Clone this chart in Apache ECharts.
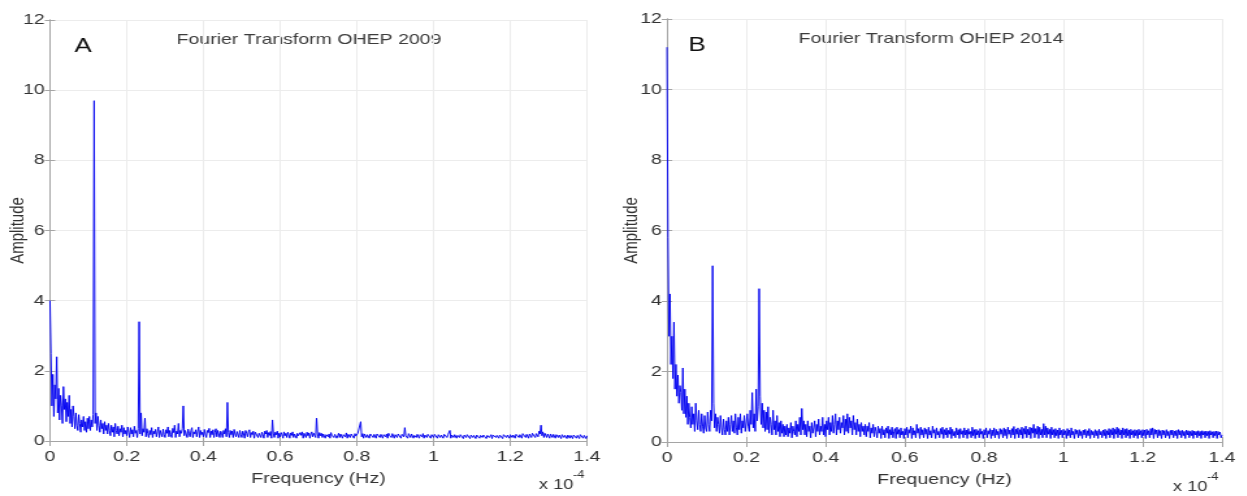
<!DOCTYPE html>
<html>
<head>
<meta charset="utf-8">
<script src="https://cdn.jsdelivr.net/npm/echarts@6/dist/echarts.min.js"></script>
<style>
html,body{margin:0;padding:0;background:#fff;overflow:hidden;width:1247px;height:496px}
#c{width:960px;height:496px;transform:scaleX(1.3);transform-origin:0 0}
</style>
</head>
<body>
<div id="c"></div>
<script>
// Frequency grid, in units of 1e-4 Hz
const frequencies = [
0,0.0025,0.005,0.0075,0.01,0.0125,0.015,0.0175,0.02,0.0225,0.025,0.0275,0.03,0.0325,0.035,0.0375,0.04,0.0425,0.045,0.0475,
0.05,0.0525,0.055,0.0575,0.06,0.0625,0.065,0.0675,0.07,0.0725,0.075,0.0775,0.08,0.0825,0.085,0.0875,0.09,0.0925,0.095,0.0975,
0.1,0.1025,0.105,0.1075,0.11,0.1125,0.115,0.1175,0.12,0.1225,0.125,0.1275,0.13,0.1325,0.135,0.1375,0.14,0.1425,0.145,0.1475,
0.15,0.1525,0.155,0.1575,0.16,0.1625,0.165,0.1675,0.17,0.1725,0.175,0.1775,0.18,0.1825,0.185,0.1875,0.19,0.1925,0.195,0.1975,
0.2,0.2025,0.205,0.2075,0.21,0.2125,0.215,0.2175,0.22,0.2225,0.225,0.2275,0.23,0.2325,0.235,0.2375,0.24,0.2425,0.245,0.2475,
0.25,0.2525,0.255,0.2575,0.26,0.2625,0.265,0.2675,0.27,0.2725,0.275,0.2775,0.28,0.2825,0.285,0.2875,0.29,0.2925,0.295,0.2975,
0.3,0.3025,0.305,0.3075,0.31,0.3125,0.315,0.3175,0.32,0.3225,0.325,0.3275,0.33,0.3325,0.335,0.3375,0.34,0.3425,0.345,0.3475,
0.35,0.3525,0.355,0.3575,0.36,0.3625,0.365,0.3675,0.37,0.3725,0.375,0.3775,0.38,0.3825,0.385,0.3875,0.39,0.3925,0.395,0.3975,
0.4,0.4025,0.405,0.4075,0.41,0.4125,0.415,0.4175,0.42,0.4225,0.425,0.4275,0.43,0.4325,0.435,0.4375,0.44,0.4425,0.445,0.4475,
0.45,0.4525,0.455,0.4575,0.46,0.4625,0.465,0.4675,0.47,0.4725,0.475,0.4775,0.48,0.4825,0.485,0.4875,0.49,0.4925,0.495,0.4975,
0.5,0.5025,0.505,0.5075,0.51,0.5125,0.515,0.5175,0.52,0.5225,0.525,0.5275,0.53,0.5325,0.535,0.5375,0.54,0.5425,0.545,0.5475,
0.55,0.5525,0.555,0.5575,0.56,0.5625,0.565,0.5675,0.57,0.5725,0.575,0.5775,0.58,0.5825,0.585,0.5875,0.59,0.5925,0.595,0.5975,
0.6,0.6025,0.605,0.6075,0.61,0.6125,0.615,0.6175,0.62,0.6225,0.625,0.6275,0.63,0.6325,0.635,0.6375,0.64,0.6425,0.645,0.6475,
0.65,0.6525,0.655,0.6575,0.66,0.6625,0.665,0.6675,0.67,0.6725,0.675,0.6775,0.68,0.6825,0.685,0.6875,0.69,0.6925,0.695,0.6975,
0.7,0.7025,0.705,0.7075,0.71,0.7125,0.715,0.7175,0.72,0.7225,0.725,0.7275,0.73,0.7325,0.735,0.7375,0.74,0.7425,0.745,0.7475,
0.75,0.7525,0.755,0.7575,0.76,0.7625,0.765,0.7675,0.77,0.7725,0.775,0.7775,0.78,0.7825,0.785,0.7875,0.79,0.7925,0.795,0.7975,
0.8,0.8025,0.805,0.8075,0.81,0.8125,0.815,0.8175,0.82,0.8225,0.825,0.8275,0.83,0.8325,0.835,0.8375,0.84,0.8425,0.845,0.8475,
0.85,0.8525,0.855,0.8575,0.86,0.8625,0.865,0.8675,0.87,0.8725,0.875,0.8775,0.88,0.8825,0.885,0.8875,0.89,0.8925,0.895,0.8975,
0.9,0.9025,0.905,0.9075,0.91,0.9125,0.915,0.9175,0.92,0.9225,0.925,0.9275,0.93,0.9325,0.935,0.9375,0.94,0.9425,0.945,0.9475,
0.95,0.9525,0.955,0.9575,0.96,0.9625,0.965,0.9675,0.97,0.9725,0.975,0.9775,0.98,0.9825,0.985,0.9875,0.99,0.9925,0.995,0.9975,
1,1.0025,1.005,1.0075,1.01,1.0125,1.015,1.0175,1.02,1.0225,1.025,1.0275,1.03,1.0325,1.035,1.0375,1.04,1.0425,1.045,1.0475,
1.05,1.0525,1.055,1.0575,1.06,1.0625,1.065,1.0675,1.07,1.0725,1.075,1.0775,1.08,1.0825,1.085,1.0875,1.09,1.0925,1.095,1.0975,
1.1,1.1025,1.105,1.1075,1.11,1.1125,1.115,1.1175,1.12,1.1225,1.125,1.1275,1.13,1.1325,1.135,1.1375,1.14,1.1425,1.145,1.1475,
1.15,1.1525,1.155,1.1575,1.16,1.1625,1.165,1.1675,1.17,1.1725,1.175,1.1775,1.18,1.1825,1.185,1.1875,1.19,1.1925,1.195,1.1975,
1.2,1.2025,1.205,1.2075,1.21,1.2125,1.215,1.2175,1.22,1.2225,1.225,1.2275,1.23,1.2325,1.235,1.2375,1.24,1.2425,1.245,1.2475,
1.25,1.2525,1.255,1.2575,1.26,1.2625,1.265,1.2675,1.27,1.2725,1.275,1.2775,1.28,1.2825,1.285,1.2875,1.29,1.2925,1.295,1.2975,
1.3,1.3025,1.305,1.3075,1.31,1.3125,1.315,1.3175,1.32,1.3225,1.325,1.3275,1.33,1.3325,1.335,1.3375,1.34,1.3425,1.345,1.3475,
1.35,1.3525,1.355,1.3575,1.36,1.3625,1.365,1.3675,1.37,1.3725,1.375,1.3775,1.38,1.3825,1.385,1.3875,1.39,1.3925,1.395,1.3975,
1.4];

const amplitude2009 = [
4.0,2.5,1.0,1.9,0.7,1.6,1.2,2.4,0.8,1.5,0.6,1.3,1.0,0.5,1.55,0.9,1.2,0.55,1.1,0.7,
1.3,0.5,0.9,0.4,1.0,0.7,0.35,0.8,0.45,0.3,0.75,0.5,0.25,0.6,0.4,0.7,0.3,0.55,0.25,0.65,
0.35,0.7,0.3,0.6,0.4,0.75,9.7,0.5,0.8,0.3,0.7,0.45,0.25,0.6,0.35,0.5,0.2,0.55,0.3,0.45,
0.2,0.5,0.3,0.15,0.45,0.25,0.4,0.12,0.5,0.3,0.2,0.42,0.15,0.35,0.25,0.45,0.12,0.38,0.2,0.3,
0.15,0.4,0.25,0.1,0.38,0.2,0.32,0.12,0.42,0.22,0.3,0.1,0.35,3.4,0.2,0.8,0.15,0.35,0.25,0.65,
0.12,0.35,0.22,0.1,0.3,0.18,0.38,0.1,0.28,0.2,0.33,0.12,0.26,0.4,0.1,0.3,0.2,0.12,0.34,0.18,
0.1,0.32,0.22,0.4,0.12,0.3,0.18,0.1,0.36,0.24,0.45,0.1,0.28,0.2,0.5,0.12,0.3,0.22,0.35,1.0,
0.15,0.3,0.2,0.1,0.34,0.22,0.12,0.3,0.38,0.1,0.26,0.2,0.32,0.12,0.28,0.4,0.1,0.3,0.18,0.25,
0.12,0.33,0.2,0.1,0.3,0.24,0.36,0.1,0.28,0.18,0.32,0.1,0.25,0.35,0.12,0.3,0.2,0.1,0.28,0.22,
0.1,0.3,0.2,0.35,0.12,1.1,0.25,0.1,0.3,0.18,0.28,0.1,0.33,0.2,0.12,0.27,0.22,0.1,0.3,0.18,
0.1,0.28,0.2,0.08,0.3,0.22,0.12,0.26,0.32,0.1,0.24,0.18,0.28,0.08,0.25,0.2,0.3,0.1,0.22,0.27,
0.1,0.25,0.18,0.08,0.28,0.2,0.3,0.1,0.24,0.16,0.27,0.08,0.6,0.2,0.1,0.25,0.18,0.28,0.08,0.22,
0.12,0.24,0.18,0.08,0.26,0.15,0.22,0.1,0.25,0.18,0.08,0.23,0.16,0.26,0.1,0.2,0.24,0.08,0.22,0.15,
0.1,0.24,0.16,0.26,0.08,0.22,0.18,0.1,0.25,0.15,0.23,0.08,0.2,0.26,0.12,0.22,0.16,0.1,0.65,0.2,
0.08,0.24,0.15,0.22,0.1,0.2,0.25,0.08,0.18,0.23,0.12,0.2,0.08,0.24,0.16,0.21,0.1,0.19,0.23,0.08,
0.15,0.22,0.1,0.2,0.24,0.08,0.18,0.21,0.12,0.23,0.08,0.19,0.22,0.1,0.2,0.16,0.24,0.08,0.21,0.14,
0.1,0.22,0.18,0.26,0.55,0.12,0.21,0.08,0.2,0.23,0.1,0.18,0.22,0.08,0.2,0.15,0.23,0.1,0.19,0.21,
0.08,0.2,0.15,0.22,0.1,0.19,0.23,0.08,0.18,0.21,0.12,0.2,0.08,0.22,0.16,0.19,0.1,0.21,0.24,0.08,
0.18,0.21,0.1,0.2,0.15,0.23,0.08,0.19,0.22,0.12,0.38,0.15,0.2,0.08,0.21,0.17,0.1,0.2,0.22,0.08,
0.16,0.2,0.1,0.19,0.22,0.08,0.18,0.2,0.12,0.21,0.08,0.17,0.2,0.1,0.19,0.15,0.22,0.08,0.18,0.2,
0.1,0.19,0.15,0.21,0.08,0.18,0.2,0.1,0.17,0.21,0.08,0.19,0.15,0.2,0.1,0.18,0.22,0.3,0.08,0.17,
0.19,0.1,0.18,0.2,0.08,0.16,0.19,0.1,0.18,0.15,0.2,0.07,0.17,0.19,0.1,0.18,0.14,0.2,0.07,0.17,
0.18,0.1,0.16,0.19,0.07,0.17,0.14,0.19,0.08,0.16,0.18,0.1,0.17,0.15,0.19,0.07,0.16,0.18,0.1,0.15,
0.18,0.07,0.17,0.14,0.19,0.1,0.16,0.2,0.08,0.17,0.15,0.19,0.07,0.18,0.16,0.2,0.1,0.17,0.19,0.08,
0.18,0.2,0.1,0.17,0.21,0.08,0.19,0.16,0.22,0.1,0.18,0.2,0.08,0.21,0.17,0.23,0.1,0.19,0.22,0.08,
0.2,0.24,0.1,0.22,0.18,0.26,0.1,0.21,0.25,0.12,0.28,0.2,0.45,0.15,0.26,0.1,0.22,0.24,0.1,0.2,
0.23,0.08,0.2,0.22,0.1,0.19,0.21,0.08,0.18,0.2,0.1,0.17,0.19,0.07,0.18,0.2,0.1,0.16,0.19,0.07,
0.17,0.18,0.08,0.16,0.19,0.07,0.17,0.15,0.18,0.08,0.16,0.17,0.07,0.18,0.15,0.17,0.08,0.16,0.18,0.07,
0.15];

const amplitude2014 = [
11.2,5.8,3.0,4.2,2.2,3.0,1.8,3.4,1.5,2.2,1.3,1.9,1.1,1.6,1.4,0.9,2.1,0.8,1.5,0.7,
1.3,0.5,1.1,0.7,0.4,1.0,0.5,0.8,0.3,1.1,0.6,0.35,0.9,0.5,0.3,0.8,0.45,0.25,0.75,0.4,
0.3,0.85,0.5,0.3,0.9,0.6,5.0,1.1,0.4,0.8,0.3,0.7,0.5,0.25,0.75,0.4,0.2,0.65,0.35,0.2,
0.6,0.3,0.7,0.2,0.5,0.75,0.3,0.6,0.25,0.8,0.4,0.2,0.7,0.35,0.8,0.25,0.6,0.4,0.75,0.3,
0.25,0.8,0.45,0.3,0.9,0.5,1.4,0.4,0.8,0.3,1.5,0.6,1.0,4.35,1.3,0.5,1.1,0.4,0.9,0.3,
0.85,0.35,1.0,0.25,0.7,0.5,0.2,0.9,0.35,0.6,0.2,0.75,0.3,0.55,0.15,0.6,0.25,0.5,0.15,0.45,
0.2,0.5,0.15,0.4,0.25,0.55,0.12,0.45,0.3,0.2,0.6,0.15,0.5,0.3,0.7,0.2,0.95,0.35,0.6,0.2,
0.5,0.15,0.6,0.3,0.45,0.12,0.55,0.25,0.4,0.6,0.15,0.5,0.3,0.65,0.2,0.45,0.3,0.7,0.2,0.5,
0.15,0.6,0.35,0.7,0.2,0.55,0.3,0.75,0.25,0.5,0.8,0.2,0.6,0.35,0.7,0.25,0.55,0.4,0.75,0.2,
0.65,0.3,0.8,0.25,0.7,0.4,0.6,0.2,0.75,0.35,0.55,0.2,0.65,0.3,0.5,0.15,0.55,0.3,0.45,0.2,
0.5,0.15,0.45,0.3,0.55,0.12,0.4,0.25,0.5,0.15,0.42,0.3,0.12,0.45,0.25,0.38,0.1,0.45,0.2,0.35,
0.12,0.4,0.25,0.45,0.1,0.35,0.2,0.42,0.12,0.3,0.38,0.1,0.42,0.22,0.35,0.12,0.4,0.2,0.3,0.1,
0.38,0.2,0.42,0.12,0.35,0.25,0.45,0.1,0.4,0.2,0.32,0.12,0.5,0.25,0.38,0.1,0.42,0.2,0.35,0.12,
0.4,0.22,0.36,0.1,0.42,0.2,0.32,0.12,0.45,0.25,0.35,0.1,0.4,0.2,0.3,0.12,0.38,0.22,0.42,0.1,
0.35,0.2,0.4,0.12,0.33,0.22,0.42,0.1,0.36,0.18,0.3,0.12,0.4,0.2,0.35,0.1,0.38,0.22,0.32,0.12,
0.4,0.2,0.34,0.1,0.38,0.22,0.3,0.12,0.42,0.18,0.35,0.1,0.36,0.2,0.32,0.12,0.38,0.22,0.3,0.1,
0.35,0.2,0.4,0.12,0.32,0.22,0.38,0.1,0.34,0.18,0.4,0.12,0.36,0.2,0.3,0.1,0.38,0.22,0.35,0.12,
0.4,0.18,0.36,0.1,0.42,0.22,0.34,0.12,0.38,0.2,0.44,0.1,0.36,0.22,0.4,0.12,0.35,0.2,0.42,0.1,
0.38,0.22,0.45,0.12,0.36,0.2,0.42,0.1,0.4,0.25,0.5,0.12,0.38,0.22,0.45,0.1,0.42,0.2,0.36,0.12,
0.52,0.2,0.45,0.12,0.4,0.22,0.36,0.1,0.42,0.2,0.35,0.12,0.38,0.18,0.34,0.1,0.4,0.2,0.33,0.12,
0.36,0.2,0.32,0.1,0.38,0.18,0.34,0.12,0.4,0.2,0.3,0.1,0.36,0.22,0.33,0.12,0.35,0.18,0.3,0.1,
0.34,0.2,0.36,0.12,0.32,0.18,0.38,0.1,0.33,0.2,0.3,0.12,0.35,0.18,0.32,0.1,0.36,0.2,0.3,0.12,
0.34,0.18,0.36,0.1,0.32,0.2,0.38,0.12,0.35,0.2,0.4,0.1,0.36,0.22,0.42,0.12,0.38,0.2,0.34,0.1,
0.4,0.2,0.36,0.12,0.38,0.18,0.34,0.1,0.36,0.2,0.32,0.12,0.35,0.18,0.33,0.1,0.36,0.2,0.32,0.12,
0.35,0.18,0.34,0.1,0.36,0.2,0.32,0.12,0.38,0.2,0.4,0.1,0.36,0.22,0.34,0.12,0.35,0.18,0.32,0.1,
0.34,0.2,0.32,0.12,0.35,0.18,0.3,0.1,0.33,0.2,0.34,0.12,0.31,0.18,0.33,0.1,0.35,0.2,0.32,0.12,
0.33,0.18,0.3,0.1,0.34,0.2,0.32,0.12,0.3,0.18,0.33,0.1,0.31,0.2,0.3,0.12,0.32,0.18,0.3,0.1,
0.32,0.2,0.3,0.12,0.31,0.18,0.3,0.1,0.32,0.2,0.29,0.12,0.3,0.18,0.31,0.1,0.3,0.2,0.28,0.12,
0.2];

const panelTitles = ['Fourier Transform OHEP 2009', 'Fourier Transform OHEP 2014'];
const panelLetters = ['A', 'B'];
const xAxisName = 'Frequency (Hz)';
const yAxisName = 'Amplitude';
const xTicks = {min: 0, max: 1.4, interval: 0.2};
const yTicks = {min: 0, max: 12, interval: 2};

// The page is stretched horizontally by S (as the source figure is); positions below are in screen px / S
const S = 1.3;
const FONT = '"Liberation Sans", Arial, Helvetica, sans-serif';
const grids = [
  {left: 50 / S, top: 20, width: 537 / S, height: 421},
  {left: 667 / S, top: 19, width: 555 / S, height: 423}
];
const AX = '#a5a5a5';

function zip(xs, ys) { return xs.map((x, i) => [x, ys[i]]); }

const xAxes = [], yAxes = [], series = [];
grids.forEach((g, i) => {
  xAxes.push(Object.assign({
    gridIndex: i, type: 'value',
    name: xAxisName, nameLocation: 'middle', nameGap: 30,
    nameTextStyle: {color: '#333', fontSize: 15, fontFamily: FONT},
    axisLine: {show: true, lineStyle: {color: AX, width: 1}},
    axisTick: {show: true, inside: true, length: 5, lineStyle: {color: AX}},
    axisLabel: {color: '#333', fontSize: 15, fontFamily: FONT, margin: 8},
    splitLine: {show: true, lineStyle: {color: '#ececec', width: 1}}
  }, xTicks));
  xAxes.push(Object.assign({
    gridIndex: i, type: 'value', position: 'top',
    axisLine: {show: true, lineStyle: {color: AX, width: 1}},
    axisTick: {show: true, inside: true, length: 5, lineStyle: {color: AX}},
    axisLabel: {show: false}, splitLine: {show: false}
  }, xTicks));
  yAxes.push(Object.assign({
    gridIndex: i, type: 'value',
    name: yAxisName, nameLocation: 'middle', nameGap: i === 0 ? 17 : 19.5, nameRotate: 90,
    nameMoveOverlap: false,
    nameTextStyle: {color: '#333', fontSize: 15, fontFamily: FONT},
    axisLine: {show: true, lineStyle: {color: AX, width: 1}},
    axisTick: {show: true, inside: true, length: 4, lineStyle: {color: AX}},
    axisLabel: {color: '#333', fontSize: 15, fontFamily: FONT, margin: 4},
    splitLine: {show: true, lineStyle: {color: '#ececec', width: 1}}
  }, yTicks));
  yAxes.push(Object.assign({
    gridIndex: i, type: 'value', position: 'right',
    axisLine: {show: true, lineStyle: {color: AX, width: 1}},
    axisTick: {show: true, inside: true, length: 4, lineStyle: {color: AX}},
    axisLabel: {show: false}, splitLine: {show: false}
  }, yTicks));
});

series.push({
  type: 'line', xAxisIndex: 0, yAxisIndex: 0, data: zip(frequencies, amplitude2009),
  showSymbol: false, symbol: 'none', lineStyle: {color: '#0000f0', width: 0.95}
});
series.push({
  type: 'line', xAxisIndex: 2, yAxisIndex: 2, data: zip(frequencies, amplitude2014),
  showSymbol: false, symbol: 'none', lineStyle: {color: '#0000f0', width: 0.95}
});

const graphics = [];
const titlePos = [[309, 40], [931, 39]];
const letterPos = [[83, 46], [697, 45]];
const expPos = [[539, 485], [1173, 487]];
for (let i = 0; i < 2; i++) {
  graphics.push({type: 'text', x: titlePos[i][0] / S, y: titlePos[i][1],
    style: {text: panelTitles[i], fill: '#3c3c3c', font: '15px ' + FONT, textAlign: 'center', textVerticalAlign: 'middle'}});
  graphics.push({type: 'text', x: letterPos[i][0] / S, y: letterPos[i][1],
    style: {text: panelLetters[i], fill: '#111', font: '20px ' + FONT, textAlign: 'center', textVerticalAlign: 'middle'}});
  graphics.push({type: 'text', x: expPos[i][0] / S, y: expPos[i][1],
    style: {text: 'x 10', fill: '#333', font: '14px ' + FONT, textAlign: 'left', textVerticalAlign: 'middle'}});
  graphics.push({type: 'text', x: (expPos[i][0] + 34) / S, y: expPos[i][1] - 10,
    style: {text: '-4', fill: '#333', font: '10px ' + FONT, textAlign: 'left', textVerticalAlign: 'middle'}});
}

const chart = echarts.init(document.getElementById('c'), null, {renderer: 'canvas'});
chart.setOption({
  animation: false,
  backgroundColor: '#fff',
  grid: grids.map(g => Object.assign({containLabel: false}, g)),
  xAxis: xAxes,
  yAxis: yAxes,
  series: series,
  graphic: graphics
});
</script>
</body>
</html>
